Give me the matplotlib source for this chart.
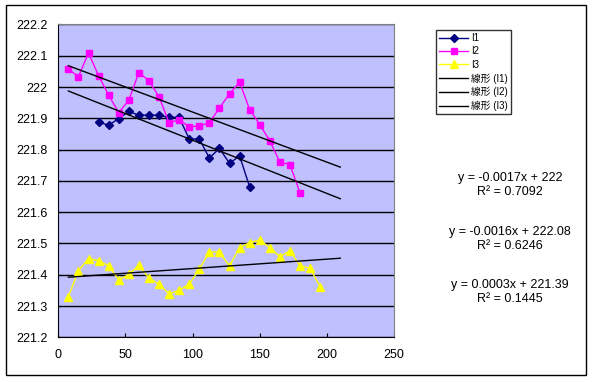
import numpy as np
import matplotlib
matplotlib.use('Agg')
import matplotlib.pyplot as plt
import matplotlib.patches as mpatches
from matplotlib.ticker import FuncFormatter

plt.rcParams['font.family'] = ['Liberation Sans', 'Noto Sans CJK JP']

# ==========================================
# Dados
# ==========================================
x_step = 7.5
x_i2 = np.arange(1, 25) * x_step          # 7.5 .. 180
x_i1 = np.arange(4, 20) * x_step          # 30 .. 142.5
x_i3 = np.arange(1, 27) * x_step          # 7.5 .. 195

i1 = [221.888, 221.878, 221.899, 221.922, 221.910, 221.910, 221.910, 221.903,
      221.903, 221.834, 221.834, 221.773, 221.804, 221.756, 221.780, 221.681]
i2 = [222.057, 222.033, 222.109, 222.036, 221.974, 221.918, 221.958, 222.046,
      222.020, 221.969, 221.886, 221.895, 221.873, 221.875, 221.886, 221.933,
      221.978, 222.016, 221.928, 221.880, 221.828, 221.760, 221.752, 221.662]
i3 = [221.330, 221.413, 221.452, 221.445, 221.429, 221.384, 221.401, 221.431,
      221.389, 221.370, 221.339, 221.351, 221.370, 221.418, 221.473, 221.473,
      221.428, 221.487, 221.503, 221.511, 221.487, 221.458, 221.477, 221.429,
      221.421, 221.362]

# equações exibidas (coeficientes das linhas de tendência)
trend_coefs = [(-0.0017, 222.0), (-0.0016, 222.08), (0.0003, 221.39)]
trend_labels = ['y = -0.0017x + 222\nR² = 0.7092',
                'y = -0.0016x + 222.08\nR² = 0.6246',
                'y = 0.0003x + 221.39\nR² = 0.1445']
trend_range = (7.5, 210)

# ==========================================
# Figura
# ==========================================
fig = plt.figure(figsize=(5.94, 3.82), dpi=100)
ax = fig.add_axes([58.3 / 594, 1 - 337.4 / 382, (394 - 58.3) / 594, (337.4 - 24.4) / 382])
ax.set_facecolor('#C0C0FF')

ax.plot(x_i1, i1, color='#000080', marker='D', markersize=4.5, lw=1, label='I1')
ax.plot(x_i2, i2, color='#FF00FF', marker='s', markersize=5, lw=1, label='I2')
ax.plot(x_i3, i3, color='#FFFF00', marker='^', markersize=6, lw=1, label='I3')

xt = np.array(trend_range)
for k, (m, b) in enumerate(trend_coefs):
    ax.plot(xt, m * xt + b, color='black', lw=1, label=f'線形 (I{k + 1})')

ax.set_xlim(0, 250)
ax.set_ylim(221.2, 222.2)
ax.set_xticks(range(0, 251, 50))
ax.set_yticks(np.arange(221.2, 222.21, 0.1))
ax.yaxis.set_major_formatter(FuncFormatter(lambda v, p: f'{v:.1f}'.rstrip('0').rstrip('.')))
ax.tick_params(direction='in', length=3, labelsize=9, pad=8)
ax.yaxis.grid(True, color='black', lw=1)
ax.set_axisbelow(True)
for s in ['top', 'right']:
    ax.spines[s].set_color('#808080')

leg = fig.legend(loc='upper left', bbox_to_anchor=(436 / 594, 1 - 30 / 382),
                 fontsize=7, frameon=True, fancybox=False, edgecolor='black',
                 handlelength=3, handletextpad=0.3, labelspacing=0.35,
                 borderpad=0.3, borderaxespad=0)
leg.get_frame().set_linewidth(1)

eq_y = [185, 239, 292]
for lab, yy in zip(trend_labels, eq_y):
    fig.text(510 / 594, 1 - yy / 382, lab, ha='center', va='center',
             fontsize=9, linespacing=1.3)

fig.patches.append(mpatches.Rectangle((6 / 594, 1 - 375 / 382), (586 - 6) / 594,
                                      (375 - 5) / 382, transform=fig.transFigure,
                                      fill=False, edgecolor='black', lw=1))

fig.savefig('out.png', dpi=100)
